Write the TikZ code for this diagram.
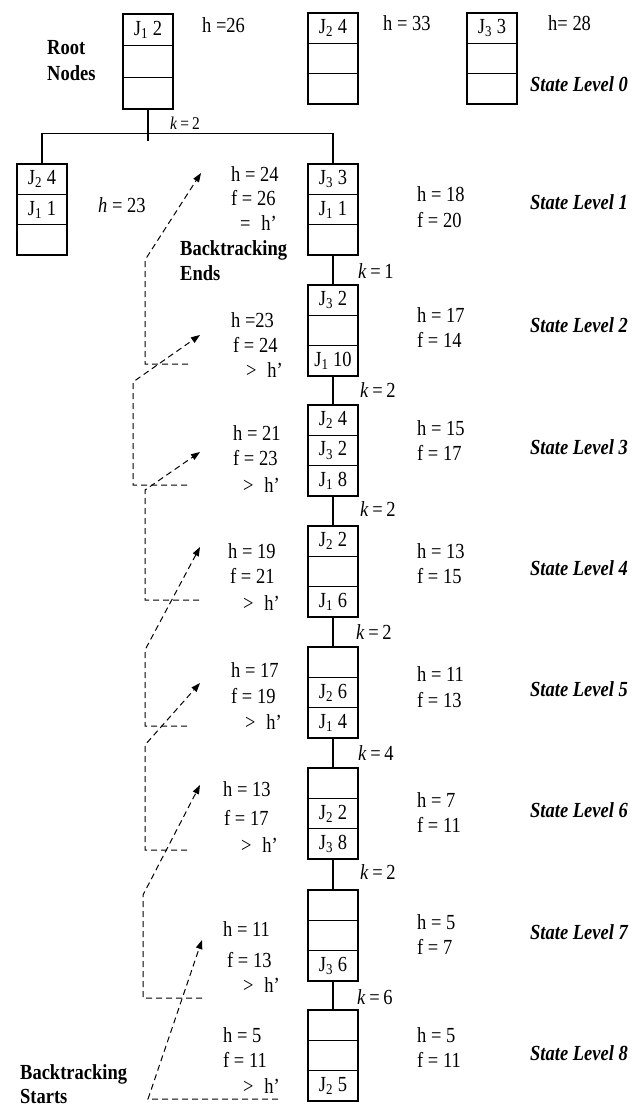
\documentclass[tikz,border=0pt]{standalone}
\usepackage{fontspec}
\setmainfont{Liberation Serif}[FakeStretch=0.86]
\usetikzlibrary{arrows.meta}
\newcommand\fs{\fontsize{21.5}{23}\selectfont}
\tikzset{
  cell/.style={draw, line width=1.1pt, minimum width=50pt, inner sep=0pt, font=\fs},
  lbl/.style={anchor=west, inner sep=0pt, text height=14.5pt, text depth=0pt, font=\fs},
  lvl/.style={lbl, font=\fs\bfseries\itshape},
  bld/.style={lbl, font=\fs\bfseries},
  link/.style={line width=1.1pt},
  back/.style={line width=1pt, dash pattern=on 6pt off 4pt},
  backarrow/.style={back, -{Triangle[length=9pt,width=6.5pt]}},
}
\newcommand\stbox[7]{%
  \node[cell, minimum height=#4pt] (#1a) at (#2,#3+0.5*#4) {#5};
  \node[cell, minimum height=#4pt] (#1b) at (#2,#3+1.5*#4) {#6};
  \node[cell, minimum height=#4pt] (#1c) at (#2,#3+2.5*#4) {#7};}
\newcommand\J[2]{J\textsubscript{#1} #2}
\begin{document}
\begin{tikzpicture}[x=1pt,y=-1pt]
\useasboundingbox (0,0) rectangle (643,1106);
% root nodes
\stbox{A}{148}{14}{31.67}{\J{1}{2}}{}{}
\stbox{B}{333}{13}{30.33}{\J{2}{4}}{}{}
\stbox{C}{492}{13}{30.33}{\J{3}{3}}{}{}
\node[bld] (root1) at (47,47) {Root};
\node[bld] (root2) at (47,73) {Nodes};
\node[lbl] (hA) at (202,25) {h =26};
\node[lbl] (hB) at (383,23) {h = 33};
\node[lbl] (hC) at (548,23) {h= 28};
\node[lvl] (sl0) at (530,84) {State Level 0};
% level 1 side node
\stbox{D}{42}{164}{30.33}{\J{2}{4}}{\J{1}{1}}{}
\node[lbl] (hD) at (98,205) {\textit{h} = 23};
% main column
\stbox{La}{333}{164}{30.33}{\J{3}{3}}{\J{1}{1}}{}
\stbox{Lb}{333}{285}{30.33}{\J{3}{2}}{}{\J{1}{10}}
\stbox{Lc}{333}{405}{30.33}{\J{2}{4}}{\J{3}{2}}{\J{1}{8}}
\stbox{Ld}{333}{526}{30.33}{\J{2}{2}}{}{\J{1}{6}}
\stbox{Le}{333}{647}{30.33}{}{\J{2}{6}}{\J{1}{4}}
\stbox{Lf}{333}{768}{30.33}{}{\J{2}{2}}{\J{3}{8}}
\stbox{Lg}{333}{890}{30.33}{}{}{\J{3}{6}}
\stbox{Lh}{333}{1010}{30.33}{}{}{\J{2}{5}}
% tree connectors
\draw[link] (Ac.south) -- ++(0,31);
\draw[link] (Da.north) -- ++(0,-30) -| (Laa.north);
\node[lbl, font=\fontsize{18}{20}\selectfont, text height=12pt] (k0) at (170,123) {\textit{k}\,=\,2};
\draw[link] (Lac.south) -- (Lba.north);
\draw[link] (Lbc.south) -- (Lca.north);
\draw[link] (Lcc.south) -- (Lda.north);
\draw[link] (Ldc.south) -- (Lea.north);
\draw[link] (Lec.south) -- (Lfa.north);
\draw[link] (Lfc.south) -- (Lga.north);
\draw[link] (Lgc.south) -- (Lha.north);
\node[lbl] (k1) at (358,271) {\textit{k}\,=\,1};
\node[lbl] (k2) at (360,390) {\textit{k}\,=\,2};
\node[lbl] (k3) at (360,509) {\textit{k}\,=\,2};
\node[lbl] (k4) at (356,632) {\textit{k}\,=\,2};
\node[lbl] (k5) at (358,753) {\textit{k}\,=\,4};
\node[lbl] (k6) at (360,872) {\textit{k}\,=\,2};
\node[lbl] (k7) at (357,997) {\textit{k}\,=\,6};
% right labels
\node[lbl] (rh1) at (417,194) {h = 18};  \node[lbl] (rf1) at (417,220) {f = 20};
\node[lbl] (rh2) at (417,315) {h = 17};  \node[lbl] (rf2) at (417,340) {f = 14};
\node[lbl] (rh3) at (417,428) {h = 15};  \node[lbl] (rf3) at (417,453) {f = 17};
\node[lbl] (rh4) at (417,551) {h = 13};  \node[lbl] (rf4) at (417,576) {f = 15};
\node[lbl] (rh5) at (417,674) {h = 11};  \node[lbl] (rf5) at (417,700) {f = 13};
\node[lbl] (rh6) at (417,800) {h = 7};   \node[lbl] (rf6) at (417,825) {f = 11};
\node[lbl] (rh7) at (417,922) {h = 5};   \node[lbl] (rf7) at (417,947) {f = 7};
\node[lbl] (rh8) at (417,1035) {h = 5};  \node[lbl] (rf8) at (417,1060) {f = 11};
% state levels
\node[lvl] (sl1) at (530,202) {State Level 1};
\node[lvl] (sl2) at (530,325) {State Level 2};
\node[lvl] (sl3) at (530,447) {State Level 3};
\node[lvl] (sl4) at (530,568) {State Level 4};
\node[lvl] (sl5) at (530,689) {State Level 5};
\node[lvl] (sl6) at (530,810) {State Level 6};
\node[lvl] (sl7) at (530,932) {State Level 7};
\node[lvl] (sl8) at (530,1053) {State Level 8};
% left labels
\node[lbl] (lh1) at (231,174) {h = 24};
\node[lbl] (lf1) at (231,198) {f = 26};
\node[lbl] (lq1) at (240,223) {=\enspace h’};
\node[bld] (be1) at (180,248) {Backtracking};
\node[bld] (be2) at (180,273) {Ends};
\node[lbl] (lh2) at (231,320) {h =23};
\node[lbl] (lf2) at (233,345) {f = 24};
\node[lbl] (lq2) at (246,370) {>\enspace h’};
\node[lbl] (lh3) at (233,433) {h = 21};
\node[lbl] (lf3) at (233,458) {f = 23};
\node[lbl] (lq3) at (243,485) {>\enspace h’};
\node[lbl] (lh4) at (228,551) {h = 19};
\node[lbl] (lf4) at (230,576) {f = 21};
\node[lbl] (lq4) at (243,603) {>\enspace h’};
\node[lbl] (lh5) at (231,670) {h = 17};
\node[lbl] (lf5) at (231,696) {f = 19};
\node[lbl] (lq5) at (245,722) {>\enspace h’};
\node[lbl] (lh6) at (223,789) {h = 13};
\node[lbl] (lf6) at (224,818) {f = 17};
\node[lbl] (lq6) at (241,845) {>\enspace h’};
\node[lbl] (lh7) at (223,929) {h = 11};
\node[lbl] (lf7) at (227,960) {f = 13};
\node[lbl] (lq7) at (243,985) {>\enspace h’};
\node[lbl] (lh8) at (223,1035) {h = 5};
\node[lbl] (lf8) at (223,1060) {f = 11};
\node[lbl] (lq8) at (243,1086) {>\enspace h’};
\node[bld] (bs1) at (20,1072) {Backtracking};
\node[bld] (bs2) at (20,1096) {Starts};
% backtracking dashed paths
\coordinate (a1) at (278,1099); \coordinate (a2) at (148,1099); \coordinate (a3) at (202,940);
\coordinate (b1) at (202,998); \coordinate (b2) at (143,998); \coordinate (b3) at (143,895); \coordinate (b4) at (200,785);
\coordinate (c1) at (187,850); \coordinate (c2) at (145,850); \coordinate (c3) at (145,745); \coordinate (c4) at (200,683);
\coordinate (d1) at (187,726); \coordinate (d2) at (145,726); \coordinate (d3) at (145,650); \coordinate (d4) at (200,547);
\coordinate (e1) at (199,600); \coordinate (e2) at (145,600); \coordinate (e3) at (145,490); \coordinate (e4) at (200,452);
\coordinate (f1) at (187,485); \coordinate (f2) at (133,485); \coordinate (f3) at (133,382); \coordinate (f4) at (200,335);
\coordinate (g1) at (188,364); \coordinate (g2) at (145,364); \coordinate (g3) at (145,260); \coordinate (g4) at (201,173);
\draw[backarrow] (a1) -- (a2) -- (a3);
\draw[backarrow] (b1) -- (b2) -- (b3) -- (b4);
\draw[backarrow] (c1) -- (c2) -- (c3) -- (c4);
\draw[backarrow] (d1) -- (d2) -- (d3) -- (d4);
\draw[backarrow] (e1) -- (e2) -- (e3) -- (e4);
\draw[backarrow] (f1) -- (f2) -- (f3) -- (f4);
\draw[backarrow] (g1) -- (g2) -- (g3) -- (g4);
\end{tikzpicture}
\end{document}
